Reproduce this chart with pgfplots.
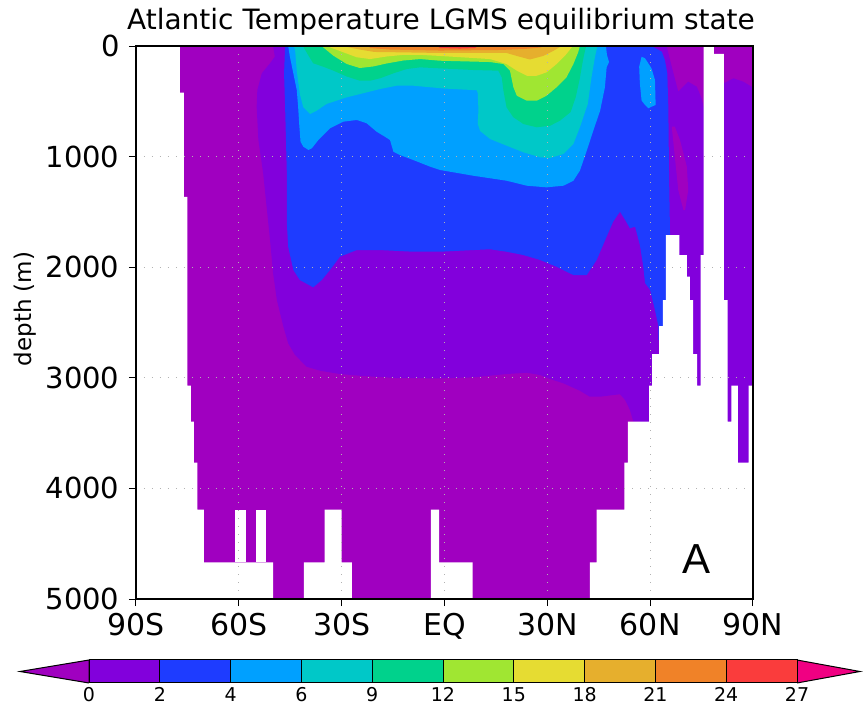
\documentclass[border=0pt]{standalone}
\usepackage{fontspec}
\setmainfont{DejaVu Sans}
\newfontfamily\lib{Liberation Sans}
\usepackage{pgfplots}
\pgfplotsset{compat=1.18}
\definecolor{cLT0}{HTML}{A000C0}
\definecolor{c0}{HTML}{8200DC}
\definecolor{c2}{HTML}{1E3CFF}
\definecolor{c4}{HTML}{00A0FF}
\definecolor{c6}{HTML}{00C8C8}
\definecolor{c9}{HTML}{00D28C}
\definecolor{c12}{HTML}{A0E632}
\definecolor{c15}{HTML}{E6DC32}
\definecolor{c18}{HTML}{E6AF2D}
\definecolor{c21}{HTML}{F08228}
\definecolor{c24}{HTML}{FA3C3C}
\definecolor{c27}{HTML}{F00082}
\begin{document}
\begin{tikzpicture}[x=1pt,y=1pt]
\path[use as bounding box] (0,0) rectangle (863,706);
\node[anchor=base, font=\fontsize{28}{30}\selectfont] at (441,676) {Atlantic Temperature LGMS equilibrium state};
\node[rotate=90, font=\fontsize{23}{25}\selectfont] at (25,397) {depth (m)};
\begin{axis}[at={(136pt,107pt)}, anchor=south west, width=617pt, height=553pt, scale only axis,
  xmin=-90, xmax=90, ymin=0, ymax=5000, y dir=reverse, axis on top, no markers,
  xtick={-90,-60,-30,0,30,60,90},
  xticklabels={90S,60S,30S,EQ,30N,60N,90N},
  ytick={0,1000,2000,3000,4000,5000},
  yticklabels={0,1000,2000,3000,4000,5000},
  tick align=outside, xtick pos=bottom, ytick pos=left,
  major tick length=7pt,
  tick style={black, line width=1pt},
  axis line style={black, line width=1.3pt},
  grid=major,
  major grid style={draw=gray!60, line width=1.2pt, dash pattern=on 1.2pt off 6.8pt},
  xticklabel style={font=\fontsize{30}{32}\selectfont, yshift=-4pt},
  yticklabel style={font=\fontsize{29}{31}\selectfont, xshift=-6pt},
]
% below 0
\addplot[fill=cLT0, draw=none] coordinates {(-90,0)(90,0)(90,5000)(-90,5000)};
% T >= 0
\addplot[fill=c0, draw=none] coordinates {(-50.0,0)(-49.5,97)(-50.9,156)(-53.3,247)(-54.6,398)(-54.8,549)(-54.3,850)(-52.9,1151)(-51.9,1453)(-50.9,1754)(-50.0,2055)(-48.9,2297)(-47.0,2538)(-45.6,2688)(-43.6,2794)(-40.2,2900)(-36.3,2936)(-30.5,2966)(-23.7,2984)(-14.0,3002)(-1.3,3005)(8.4,2996)(18.1,2966)(24.0,2954)(27.9,2975)(30.8,3011)(34.7,3050)(39.5,3117)(42.4,3171)(45.4,3171)(49.2,3156)(51.2,3149)(52.7,3201)(54.1,3291)(55.1,3397)(57,3397)(57,3900)(90,3900)(90,368)(89.6,368)(87.2,323)(84.3,292)(81.5,337)(75.7,563)(75.0,473)(73.6,368)(71.1,323)(68.2,413)(66.3,187)(64.8,0)};
\addplot[fill=cLT0, draw=none] coordinates {(66.3,730)(67.2,1001)(68.2,1302)(69.7,1483)(70.2,1483)(71.1,1302)(70.7,1091)(68.7,850)(67.2,730)};
% T >= 2
\addplot[fill=c2, draw=none] coordinates {(-46.5,0)(-46.8,247)(-46.5,549)(-46.0,1148)(-46.0,1600)(-45.6,1815)(-44.1,2025)(-42.2,2116)(-38.3,2182)(-35.8,2116)(-33.4,2025)(-30.5,1905)(-25.6,1845)(-18.8,1845)(-9.1,1860)(-1.3,1860)(8.4,1845)(13.3,1838)(18.1,1860)(23.0,1890)(27.9,1935)(32.7,1996)(37.6,2071)(41.5,2071)(44.4,1935)(47.3,1724)(49.2,1589)(51.2,1498)(52.7,1573)(54.1,1648)(55.6,1634)(57.0,1799)(58.0,1996)(58.5,2143)(60.0,2206)(61.4,2387)(62.4,2532)(62.4,2660)(66.4,2660)(65.8,1709)(65.5,1148)(65.3,549)(65.0,247)(64.3,127)(63.4,52)(60.4,0)};
% T >= 4
\addplot[fill=c4, draw=none] coordinates {(-45.6,0)(-45.1,97)(-44.1,247)(-43.1,398)(-42.7,549)(-42.4,699)(-42.0,865)(-41.2,910)(-39.7,940)(-38.7,925)(-36.8,850)(-33.4,744)(-29.5,684)(-25.6,669)(-22.7,699)(-19.8,775)(-17.4,820)(-15.9,850)(-14.9,956)(-13.0,986)(-9.1,1031)(-4.2,1091)(-1.3,1121)(8.4,1173)(18.1,1218)(24.0,1263)(29.8,1278)(34.7,1263)(37.6,1218)(39.5,1127)(41.5,947)(43.4,766)(45.4,585)(46.8,373)(47.3,193)(48.0,145)(47.4,81)(47.1,0)};
\addplot[fill=c4, draw=none] coordinates {(57.5,97)(58.5,111)(60.4,202)(61.4,307)(61.6,533)(60.4,549)(59.5,563)(58.5,533)(57.5,494)(57.0,337)(56.8,187)};
% T >= 6
\addplot[fill=c6, draw=none] coordinates {(-44.2,0)(-43.6,27)(-43.1,223)(-42.2,434)(-41.2,554)(-39.2,615)(-37.3,585)(-34.4,524)(-28.5,464)(-22.7,419)(-18.8,389)(-14.0,359)(-9.1,359)(-4.2,373)(0.1,385)(9.4,400)(9.7,425)(9.9,579)(9.7,705)(10.4,769)(13.3,841)(18.1,901)(23.0,961)(27.9,1006)(30.8,1013)(34.7,976)(37.6,886)(39.5,735)(41.8,524)(42.9,280)(43.9,99)(44.6,0)};
% T >= 9
\addplot[fill=c9, draw=none] coordinates {(-41.3,0)(-39.8,81)(-38.3,156)(-35.4,187)(-32.4,223)(-28.5,276)(-24.7,314)(-21.7,314)(-18.8,292)(-14.9,247)(-11.0,208)(-7.1,193)(-1.3,202)(8.4,217)(15.7,223)(16.7,283)(17.2,404)(18.1,554)(20.1,645)(23.0,705)(26.9,735)(30.8,721)(33.7,675)(36.8,597)(38.3,461)(39.5,289)(40.4,127)(41.1,27)(41.4,0)};
% T >= 12
\addplot[fill=c12, draw=none] coordinates {(-36.0,0)(-35.4,12)(-32.4,88)(-28.5,163)(-24.7,199)(-20.8,185)(-16.9,158)(-12.0,131)(-7.1,118)(-1.3,133)(13.3,145)(17.2,163)(19.1,223)(20.1,373)(21.1,449)(24.0,495)(26.9,495)(29.8,449)(32.7,373)(35.6,283)(37.6,163)(39.0,57)(39.5,0)};
% T >= 15
\addplot[fill=c15, draw=none] coordinates {(-34.0,0)(-33.4,12)(-29.5,57)(-25.6,102)(-21.7,118)(-16.9,95)(-12.0,80)(-7.1,80)(-1.3,90)(13.3,118)(18.1,163)(21.1,223)(24.0,269)(26.9,269)(29.8,238)(32.7,163)(35.6,72)(37.1,12)(37.5,0)};
% T >= 18
\addplot[fill=c18, draw=none] coordinates {(-29.5,0)(-29.0,5)(-24.7,32)(-20.4,54)(-13.0,57)(-1.3,63)(18.1,63)(21.1,90)(24.9,122)(28.8,90)(31.7,45)(33.7,9)(34.3,0)};
% T >= 21
\addplot[fill=c21, draw=none] coordinates {(-22.1,0)(-21.7,18)(-15.9,32)(-1.3,41)(16.2,36)(23.3,27)(27.9,14)(29.3,0)};
% T >= 24
\addplot[fill=c24, draw=none] coordinates {(-2.2,0)(-1.3,18)(4.5,23)(8.9,18)(9.8,0)};
% land
\addplot[fill=white, draw=none] coordinates {(-90,0)(-77.2,0)(-77.2,422)(-76,422)(-76,1365)(-75,1365)(-75,3071)(-74,3071)(-74,3397)(-73.1,3397)(-73.1,3768)(-72.1,3768)(-72.1,4193)(-70.2,4193)(-70.2,4668)(-50,4668)(-50,5000)(-90,5000)};
\addplot[fill=white, draw=none] coordinates {(-61,4193)(-58,4193)(-58,4668)(-61,4668)};
\addplot[fill=white, draw=none] coordinates {(-55,4193)(-52,4193)(-52,4668)(-55,4668)};
\addplot[fill=white, draw=none] coordinates {(-41,5000)(-41,4668)(-35,4668)(-35,4193)(-30,4193)(-30,4668)(-27,4668)(-27,5000)};
\addplot[fill=white, draw=none] coordinates {(-4,5000)(-4,4193)(-1.6,4193)(-1.6,4668)(8.2,4668)(8.2,5000)};
\addplot[fill=white, draw=none] coordinates {(42.4,5000)(42.4,4668)(44.4,4668)(44.4,4193)(52.5,4193)(52.5,3768)(53.5,3768)(53.5,3397)(59.7,3397)(59.7,3071)(60.6,3071)(60.6,2785)(62.6,2785)(62.6,2532)(63.7,2532)(63.7,2297)(64.6,2297)(64.6,1709)(68.5,1709)(68.5,1890)(70.7,1890)(70.7,2086)(71.6,2086)(71.6,2297)(72.5,2297)(72.5,2785)(73.7,2785)(73.7,3071)(74.7,3071)(74.7,1890)(75.6,1890)(75.6,0)(78.6,0)(78.6,72)(81.5,72)(81.5,2297)(82.6,2297)(82.6,3397)(83.7,3397)(83.7,3071)(85.6,3071)(85.6,3768)(88.7,3768)(88.7,3071)(90,3071)(90,5000)};
\node[anchor=base, font=\lib\fontsize{42}{44}\selectfont] at (axis cs:73.4,4765) {A};
\end{axis}
\begin{axis}[at={(89pt,23pt)}, anchor=south west, width=708pt, height=23pt, scale only axis,
  xmin=0, xmax=10, ymin=0, ymax=1, hide axis, clip=false, no markers]
\addplot[fill=cLT0, draw=black, line width=1pt] coordinates {(0,0)(-0.975,0.5)(0,1)(0,0)};
\addplot[fill=c27, draw=black, line width=1pt] coordinates {(10,0)(10.89,0.5)(10,1)(10,0)};
\addplot[fill=c0, draw=black, line width=1pt] coordinates {(0,0)(1,0)(1,1)(0,1)(0,0)};
\addplot[fill=c2, draw=black, line width=1pt] coordinates {(1,0)(2,0)(2,1)(1,1)(1,0)};
\addplot[fill=c4, draw=black, line width=1pt] coordinates {(2,0)(3,0)(3,1)(2,1)(2,0)};
\addplot[fill=c6, draw=black, line width=1pt] coordinates {(3,0)(4,0)(4,1)(3,1)(3,0)};
\addplot[fill=c9, draw=black, line width=1pt] coordinates {(4,0)(5,0)(5,1)(4,1)(4,0)};
\addplot[fill=c12, draw=black, line width=1pt] coordinates {(5,0)(6,0)(6,1)(5,1)(5,0)};
\addplot[fill=c15, draw=black, line width=1pt] coordinates {(6,0)(7,0)(7,1)(6,1)(6,0)};
\addplot[fill=c18, draw=black, line width=1pt] coordinates {(7,0)(8,0)(8,1)(7,1)(7,0)};
\addplot[fill=c21, draw=black, line width=1pt] coordinates {(8,0)(9,0)(9,1)(8,1)(8,0)};
\addplot[fill=c24, draw=black, line width=1pt] coordinates {(9,0)(10,0)(10,1)(9,1)(9,0)};
\node[anchor=base, font=\fontsize{19}{21}\selectfont, inner sep=0pt] at (axis cs:0,-0.8) {0};
\node[anchor=base, font=\fontsize{19}{21}\selectfont, inner sep=0pt] at (axis cs:1,-0.8) {2};
\node[anchor=base, font=\fontsize{19}{21}\selectfont, inner sep=0pt] at (axis cs:2,-0.8) {4};
\node[anchor=base, font=\fontsize{19}{21}\selectfont, inner sep=0pt] at (axis cs:3,-0.8) {6};
\node[anchor=base, font=\fontsize{19}{21}\selectfont, inner sep=0pt] at (axis cs:4,-0.8) {9};
\node[anchor=base, font=\fontsize{19}{21}\selectfont, inner sep=0pt] at (axis cs:5,-0.8) {12};
\node[anchor=base, font=\fontsize{19}{21}\selectfont, inner sep=0pt] at (axis cs:6,-0.8) {15};
\node[anchor=base, font=\fontsize{19}{21}\selectfont, inner sep=0pt] at (axis cs:7,-0.8) {18};
\node[anchor=base, font=\fontsize{19}{21}\selectfont, inner sep=0pt] at (axis cs:8,-0.8) {21};
\node[anchor=base, font=\fontsize{19}{21}\selectfont, inner sep=0pt] at (axis cs:9,-0.8) {24};
\node[anchor=base, font=\fontsize{19}{21}\selectfont, inner sep=0pt] at (axis cs:10,-0.8) {27};
\end{axis}
\end{tikzpicture}
\end{document}
